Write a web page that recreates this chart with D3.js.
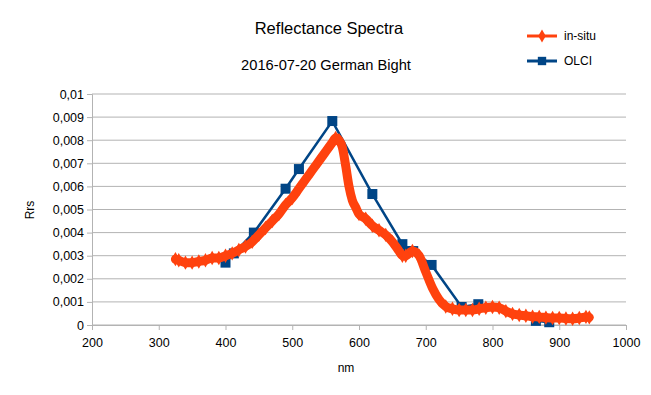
<!DOCTYPE html>
<html>
<head>
<meta charset="utf-8">
<script src="https://cdn.jsdelivr.net/npm/d3@7"></script>
<style>
  body { margin: 0; background: #fff; }
  text { font-family: "Liberation Sans", Arial, sans-serif; }
</style>
</head>
<body>
<div id="chart"></div>
<script>
const width = 651;
const height = 395;

// in-situ spectrum (nm, Rrs)
const insituNm = [325, 330, 340, 350, 360, 370, 380, 390, 400, 410, 420, 430, 440, 450, 460, 470, 480, 490, 500,
  510, 520, 530, 540, 550, 560, 565, 570, 575, 580, 585, 590, 595, 600, 610, 620, 630, 640, 650, 660, 665, 670,
  680, 690, 700, 710, 720, 730, 740, 750, 760, 770, 780, 790, 800, 810, 820, 830, 840, 850, 860, 870, 880, 890,
  900, 910, 920, 930, 940, 945];
const insituRrs = [0.00285, 0.0028, 0.0027, 0.0027, 0.00275, 0.0028, 0.0029, 0.0029, 0.003, 0.0031, 0.00325,
  0.0034, 0.0036, 0.0039, 0.0042, 0.0045, 0.0048, 0.0052, 0.0055, 0.0059, 0.0063, 0.0067, 0.0071, 0.0075,
  0.0079, 0.0081, 0.008, 0.0077, 0.0069, 0.006, 0.0054, 0.0051, 0.0048, 0.0046, 0.0043, 0.0041, 0.0039,
  0.0036, 0.0032, 0.003, 0.003, 0.0032, 0.003, 0.0023, 0.0016, 0.0011, 0.0008, 0.0007, 0.00065, 0.00065,
  0.00065, 0.0007, 0.00075, 0.00078, 0.00075, 0.0006, 0.00048, 0.00043, 0.0004, 0.00036, 0.00035, 0.00032,
  0.0003, 0.0003, 0.00028, 0.00027, 0.0003, 0.00035, 0.00033];

// OLCI bands
const olciNm = [400, 412.5, 442.5, 490, 510, 560, 620, 665, 673.75, 681.25, 708.75, 753.75, 778.75, 865, 885];
const olciRrs = [0.0027, 0.0031, 0.004, 0.0059, 0.00675, 0.00883, 0.00567, 0.0035, 0.0032, 0.0032, 0.0026,
  0.00078, 0.0009, 0.00018, 0.00012];

const xTicks = [200, 300, 400, 500, 600, 700, 800, 900, 1000];
const yTicks = [0, 0.001, 0.002, 0.003, 0.004, 0.005, 0.006, 0.007, 0.008, 0.009, 0.01];

const insitu = insituNm.map((d, i) => ({x: d, y: insituRrs[i]}));
const olci = olciNm.map((d, i) => ({x: d, y: olciRrs[i]}));

const plot = {left: 92, right: 626, top: 94, bottom: 325};

const svg = d3.select("#chart").append("svg")
  .attr("width", width)
  .attr("height", height);

const x = d3.scaleLinear().domain([200, 1000]).range([plot.left, plot.right]);
const y = d3.scaleLinear().domain([0, 0.01]).range([plot.bottom, plot.top]);

// grid
svg.append("g")
  .selectAll("line")
  .data(yTicks)
  .join("line")
  .attr("x1", plot.left).attr("x2", plot.right)
  .attr("y1", d => y(d)).attr("y2", d => y(d))
  .attr("stroke", "#b3b3b3");

const fmt = d => d === 0 ? "0" : String(+d.toFixed(3)).replace(".", ",");

const yAxis = svg.append("g")
  .attr("transform", `translate(${plot.left},0)`)
  .call(d3.axisLeft(y).tickValues(yTicks).tickFormat(fmt).tickSizeOuter(0).tickSize(5).tickPadding(3));

const xAxis = svg.append("g")
  .attr("transform", `translate(0,${plot.bottom})`)
  .call(d3.axisBottom(x).tickValues(xTicks).tickFormat(d3.format("d")).tickSizeOuter(0).tickSize(5).tickPadding(8));

[yAxis, xAxis].forEach(a => {
  a.selectAll("path, line").attr("stroke", "#b3b3b3");
  a.selectAll("text").attr("font-size", 12.5).attr("fill", "#000")
    .attr("font-family", "Liberation Sans, Arial, sans-serif");
});

// OLCI
svg.append("path")
  .datum(olci)
  .attr("d", d3.line().x(d => x(d.x)).y(d => y(d.y)))
  .attr("fill", "none")
  .attr("stroke", "#004586")
  .attr("stroke-width", 2.5);

svg.append("g")
  .selectAll("rect")
  .data(olci)
  .join("rect")
  .attr("x", d => x(d.x) - 5)
  .attr("y", d => y(d.y) - 5)
  .attr("width", 10)
  .attr("height", 10)
  .attr("fill", "#004586");

// in-situ: thick band of diamond markers, drawn on top
const line = d3.line().x(d => x(d.x)).y(d => y(d.y)).curve(d3.curveMonotoneX);

svg.append("path")
  .datum(insitu)
  .attr("d", line)
  .attr("fill", "none")
  .attr("stroke", "#ff420e")
  .attr("stroke-width", 9)
  .attr("stroke-linejoin", "round")
  .attr("stroke-linecap", "round");

const diamond = d3.symbol().type(d3.symbolDiamond).size(60);
svg.append("g")
  .selectAll("path")
  .data(insitu)
  .join("path")
  .attr("transform", d => `translate(${x(d.x)},${y(d.y)})`)
  .attr("d", diamond)
  .attr("fill", "#ff420e");

// titles
svg.append("text")
  .attr("x", 329).attr("y", 34)
  .attr("text-anchor", "middle")
  .attr("font-size", 16.5)
  .text("Reflectance Spectra");

svg.append("text")
  .attr("x", 326).attr("y", 70)
  .attr("text-anchor", "middle")
  .attr("font-size", 14.7)
  .text("2016-07-20 German Bight");

svg.append("text")
  .attr("x", 346).attr("y", 372)
  .attr("text-anchor", "middle")
  .attr("font-size", 12)
  .text("nm");

svg.append("text")
  .attr("transform", "translate(34,210) rotate(-90)")
  .attr("text-anchor", "middle")
  .attr("font-size", 12)
  .text("Rrs");

// legend
const legend = [
  {name: "in-situ", color: "#ff420e", y: 36, sym: "diamond"},
  {name: "OLCI", color: "#004586", y: 61, sym: "square"}
];
const lg = svg.append("g").selectAll("g").data(legend).join("g");
lg.append("line")
  .attr("x1", 527).attr("x2", 557)
  .attr("y1", d => d.y).attr("y2", d => d.y)
  .attr("stroke", d => d.color)
  .attr("stroke-width", 3);
lg.append("path")
  .attr("transform", d => `translate(542,${d.y})`)
  .attr("d", d => d3.symbol().type(d.sym === "diamond" ? d3.symbolDiamond : d3.symbolSquare).size(d.sym === "diamond" ? 50 : 70)())
  .attr("fill", d => d.color);
lg.append("text")
  .attr("x", 564).attr("y", d => d.y + 4)
  .attr("font-size", 12)
  .text(d => d.name);
</script>
</body>
</html>
